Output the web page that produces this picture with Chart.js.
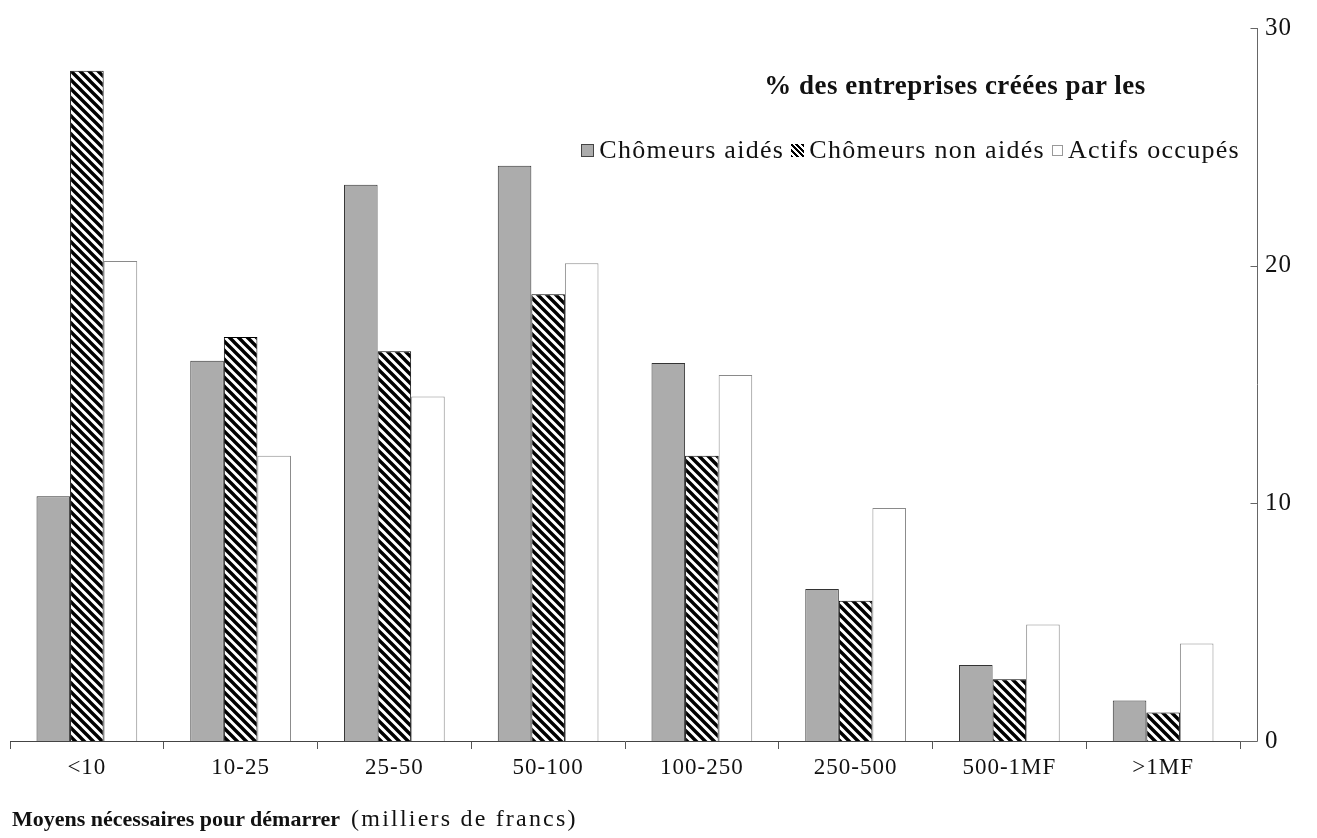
<!DOCTYPE html>
<html>
<head>
<meta charset="utf-8">
<script src="https://cdn.jsdelivr.net/npm/chart.js@4.4.1/dist/chart.umd.min.js"></script>
<style>
  body { margin: 0; background: #fff; }
  #wrap { position: relative; width: 1317px; height: 838px; font-family: "Liberation Serif", "Times New Roman", serif; color: #111; }
  #myChart { position: absolute; left: 0; top: 0; }
  #title { position: absolute; left: 690px; width: 530px; top: 70px; text-align: center; font-weight: bold; font-size: 27px; letter-spacing: 0.5px; }
  #legend { position: absolute; right: 77px; top: 135px; font-size: 26px; letter-spacing: 1.3px; display: flex; align-items: center; white-space: nowrap; }
  #legend .item { display: flex; align-items: center; margin-left: 7px; }
  #legend .sw { width: 13px; height: 13px; margin-right: 5px; box-sizing: border-box; }
  #caption { position: absolute; left: 12px; top: 805px; font-size: 22px; white-space: pre; }
  #caption .unit { font-size: 24px; letter-spacing: 2.2px; }
</style>
</head>
<body>
<div id="wrap">
  <canvas id="myChart" width="1317" height="838"></canvas>
  <div id="title">% des entreprises créées par les</div>
  <div id="legend"></div>
  <div id="caption"><b>Moyens nécessaires pour démarrer</b>  <span class="unit">(milliers de francs)</span></div>
</div>
<script>
// categories (milliers de francs)
var categories = ["<10", "10-25", "25-50", "50-100", "100-250", "250-500", "500-1MF", ">1MF"];
var seriesNames = ["Chômeurs aidés", "Chômeurs non aidés", "Actifs occupés"];

// % des entreprises créées
var chomeursAides = [10.3, 16.0, 23.4, 24.2, 15.9, 6.4, 3.2, 1.7];
var chomeursNonAides = [28.2, 17.0, 16.4, 18.8, 12.0, 5.9, 2.6, 1.2];
var actifsOccupes = [20.2, 12.0, 14.5, 20.1, 15.4, 9.8, 4.9, 4.1];

var yTicks = [0, 10, 20, 30];

var serif = "'Liberation Serif', 'Times New Roman', serif";

// hachures noires en diagonale
function makeHatch() {
    var s = 9;
    var c = document.createElement('canvas');
    c.width = s; c.height = s;
    var g = c.getContext('2d');
    g.fillStyle = '#fff';
    g.fillRect(0, 0, s, s);
    g.strokeStyle = '#000';
    g.lineWidth = 3.4;
    g.beginPath();
    for (var k = -1; k <= 1; k++) {
        g.moveTo(k * s - 2, -2);
        g.lineTo(k * s + s + 2, s + 2);
    }
    g.stroke();
    return c;
}
var ctx0 = document.getElementById("myChart").getContext('2d');
var hatch = ctx0.createPattern(makeHatch(), 'repeat');

var fills = ['#acacac', hatch, '#ffffff'];
var borders = ['#333333', '#000000', '#8a8a8a'];

// legende en html
var legendEl = document.getElementById('legend');
var swatchCss = [
    'background:#acacac;border:1px solid #444;',
    'background:repeating-linear-gradient(45deg,#000 0 2px,#fff 2px 4px);',
    'background:#fff;border:1px solid #999;width:11px;height:11px;'
];
for (var i in seriesNames) {
    var item = document.createElement('span');
    item.className = 'item';
    item.innerHTML = '<span class="sw" style="' + swatchCss[i] + '"></span>' + seriesNames[i];
    legendEl.appendChild(item);
}

// espacement des lettres comme sur le scan
var spacing = {
    id: 'spacing',
    beforeDraw: function(chart) { chart.ctx.letterSpacing = '1px'; }
};

// axe de droite decale comme dans l'original
var rightAxis = {
    id: 'rightAxis',
    afterDraw: function(chart) {
        var ctx = chart.ctx, area = chart.chartArea, y = chart.scales.y;
        var ax = Math.round(area.right + 17) + 0.5;
        var yb = Math.round(area.bottom) + 0.5;
        ctx.save();
        ctx.strokeStyle = '#666';
        ctx.lineWidth = 1;
        ctx.beginPath();
        ctx.moveTo(area.right, yb);
        ctx.lineTo(ax, yb);
        ctx.moveTo(ax, area.bottom);
        ctx.lineTo(ax, y.getPixelForValue(yTicks[yTicks.length - 1]));
        for (var i in yTicks) {
            var py = Math.round(y.getPixelForValue(yTicks[i])) + 0.5;
            ctx.moveTo(ax - 7, py);
            ctx.lineTo(ax, py);
        }
        ctx.stroke();
        ctx.restore();
    }
};

var chart = new Chart(document.getElementById("myChart"), {
    type: 'bar',
    data: {
        labels: categories,
        datasets: [
            {
                label: seriesNames[0],
                data: chomeursAides,
                backgroundColor: fills[0],
                borderColor: borders[0],
                borderWidth: 1
            },
            {
                label: seriesNames[1],
                data: chomeursNonAides,
                backgroundColor: fills[1],
                borderColor: borders[1],
                borderWidth: 1
            },
            {
                label: seriesNames[2],
                data: actifsOccupes,
                backgroundColor: fills[2],
                borderColor: borders[2],
                borderWidth: 1
            }
        ]
    },
    options: {
        responsive: false,
        animation: false,
        datasets: {
            bar: { barPercentage: 1.0, categoryPercentage: 0.655, borderSkipped: 'bottom' }
        },
        layout: { padding: { left: 10, top: 28, right: 0, bottom: 47 } },
        plugins: {
            legend: { display: false },
            tooltip: { enabled: false }
        },
        scales: {
            x: {
                offset: true,
                grid: { display: true, drawOnChartArea: false, drawTicks: true, tickLength: 8, color: '#555', offset: true },
                border: { display: true, color: '#444', width: 1 },
                ticks: { color: '#111', font: { family: serif, size: 23 }, padding: 5, maxRotation: 0 },
                afterFit: function(s) { s.height = 50; }
            },
            y: {
                position: 'right',
                min: 0,
                max: 30,
                afterBuildTicks: function(s) { s.ticks = yTicks.map(function(v) { return { value: v }; }); },
                grid: { display: false },
                border: { display: false },
                ticks: { color: '#111', font: { family: serif, size: 25 }, padding: 17 },
                afterFit: function(s) { s.width = 77; s.paddingTop = 0; s.paddingBottom = 0; }
            }
        }
    },
    plugins: [spacing, rightAxis]
});
</script>
</body>
</html>
